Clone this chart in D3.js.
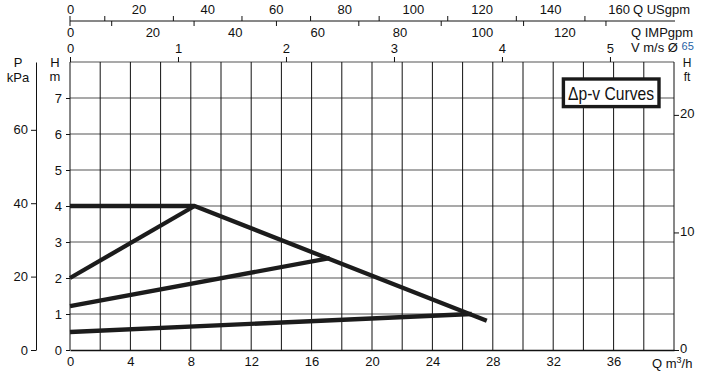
<!DOCTYPE html>
<html>
<head>
<meta charset="utf-8">
<script src="https://cdn.jsdelivr.net/npm/d3@7"></script>
<style>
  body { margin: 0; background: #fff; }
  svg { font-family: "Liberation Sans", Arial, sans-serif; }
  .axis text { font-size: 13px; fill: #111; }
  .axis line, .axis path { stroke: #111; }
</style>
</head>
<body>
<script>
// Curves, [Q m3/h, H m]
const constCurve = [[0, 4], [8.25, 4], [27.6, 0.81]]
const highCurve = [[0, 2], [8.25, 4]]
const midCurve = [[0, 1.22], [17.2, 2.55]]
const lowCurve = [[0, 0.5], [26.6, 1.0]]

// Tick labels
const qTicks = [0, 4, 8, 12, 16, 20, 24, 28, 32, 36]
const qGrid = [0, 2, 4, 6, 8, 10, 12, 14, 16, 18, 20, 22, 24, 26, 28, 30, 32, 34, 36, 38, 40]
const hTicks = [0, 1, 2, 3, 4, 5, 6, 7]
const hGrid = [1, 2, 3, 4, 5, 6, 7, 8]
const kpaTicks = [0, 20, 40, 60]
const ftTicks = [0, 10, 20]
const usTicks = [0, 20, 40, 60, 80, 100, 120, 140, 160]
const usMinor = [10, 30, 50, 70, 90, 110, 130, 150]
const impTicks = [0, 20, 40, 60, 80, 100, 120]
const impMinor = [10, 30, 50, 70, 90, 110, 130]
const vTicks = [0, 1, 2, 3, 4, 5]

const width = 705
const height = 372
const plotLeft = 70
const plotRight = 674
const plotTop = 62
const plotBottom = 350

const svg = d3.select('body')
  .append('svg')
  .attr('width', width)
  .attr('height', height)

// Scales
const xScale = d3.scaleLinear().domain([0, 40]).range([plotLeft, plotRight])
const yScale = d3.scaleLinear().domain([0, 8]).range([plotBottom, plotTop])
const kpaScale = d3.scaleLinear().domain([0, 8 * 9.81]).range([plotBottom, plotTop])
const ftScale = d3.scaleLinear().domain([0, 24.5]).range([plotBottom, plotTop])
const usScale = d3.scaleLinear().domain([0, 40 * 4.403]).range([plotLeft, plotRight])
const impScale = d3.scaleLinear().domain([0, 40 * 3.666]).range([plotLeft, plotRight])
const vScale = d3.scaleLinear().domain([0, 5.593]).range([plotLeft, plotRight])

// Horizontal grid (grey)
svg.append('g')
  .selectAll('line')
  .data(hGrid)
  .enter()
  .append('line')
  .attr('x1', plotLeft)
  .attr('x2', plotRight)
  .attr('y1', d => yScale(d))
  .attr('y2', d => yScale(d))
  .attr('stroke', '#8c8c8c')
  .attr('stroke-width', 1.3)

// Vertical grid (black)
svg.append('g')
  .selectAll('line')
  .data(qGrid)
  .enter()
  .append('line')
  .attr('x1', d => xScale(d))
  .attr('x2', d => xScale(d))
  .attr('y1', plotTop)
  .attr('y2', plotBottom)
  .attr('stroke', '#111')
  .attr('stroke-width', 1)

// Bottom axis Q m3/h
const xAxis = svg.append('g')
  .attr('class', 'axis')
  .attr('transform', `translate(0, ${plotBottom})`)
  .call(d3.axisBottom(xScale).tickValues(qTicks).tickSize(0).tickPadding(7))
xAxis.select('.domain').attr('stroke', '#8c8c8c').attr('stroke-width', 1.3)

svg.append('text')
  .attr('x', 652)
  .attr('y', 368)
  .attr('font-size', 13)
  .attr('fill', '#111')
  .html('Q m<tspan font-size="9" dy="-5">3</tspan><tspan dy="5">/h</tspan>')

// Left H m axis
const hAxis = svg.append('g')
  .attr('class', 'axis')
  .attr('transform', `translate(${plotLeft}, 0)`)
  .call(d3.axisLeft(yScale).tickValues(hTicks).tickSize(4).tickPadding(4))
hAxis.select('.domain').remove()

// P kPa axis
svg.append('g')
  .attr('class', 'axis')
  .attr('transform', 'translate(36, 0)')
  .call(d3.axisLeft(kpaScale).tickValues(kpaTicks).tickSize(5).tickPadding(3).tickSizeOuter(0))

// Right H ft axis
const ftAxis = svg.append('g')
  .attr('class', 'axis')
  .attr('transform', `translate(${plotRight}, 0)`)
  .call(d3.axisRight(ftScale).tickValues(ftTicks).tickSize(5).tickPadding(1).tickSizeOuter(0))
ftAxis.select('.domain').remove()
ftAxis.selectAll('text').attr('dy', '0.2em')

// Top: V m/s on plot border
const vAxis = svg.append('g')
  .attr('class', 'axis')
  .attr('transform', `translate(0, ${plotTop})`)
  .call(d3.axisTop(vScale).tickValues(vTicks).tickFormat(d3.format('d')).tickSize(5).tickPadding(4).tickSizeOuter(0))
vAxis.select('.domain').remove()

// Top: USgpm / IMPgpm share one line
const usAxis = svg.append('g')
  .attr('class', 'axis')
  .attr('transform', 'translate(0, 21)')
  .call(d3.axisTop(usScale).tickValues(usTicks).tickSize(0).tickPadding(7).tickSizeOuter(0))
usAxis.select('.domain').attr('d', `M${plotLeft},0H${plotRight + 1}`)

svg.append('g')
  .attr('class', 'axis')
  .attr('transform', 'translate(0, 21)')
  .call(d3.axisTop(usScale).tickValues(usMinor).tickSize(5).tickFormat(''))
  .select('.domain').remove()

const impAxis = svg.append('g')
  .attr('class', 'axis')
  .attr('transform', 'translate(0, 21)')
  .call(d3.axisBottom(impScale).tickValues(impTicks).tickSize(0).tickPadding(7))
impAxis.select('.domain').remove()

svg.append('g')
  .attr('class', 'axis')
  .attr('transform', 'translate(0, 21)')
  .call(d3.axisBottom(impScale).tickValues(impMinor).tickSize(5).tickFormat(''))
  .select('.domain').remove()

// zero tick crosses the line
svg.append('line')
  .attr('x1', xScale(0)).attr('x2', xScale(0))
  .attr('y1', 16).attr('y2', 26)
  .attr('stroke', '#111')

// Unit labels
const labels = [
  { x: 633, y: 14, t: 'Q USgpm', a: 'start', s: 13 },
  { x: 631, y: 37, t: 'Q IMPgpm', a: 'start', s: 13 },
  { x: 18, y: 67, t: 'P', a: 'middle', s: 13 },
  { x: 18, y: 82, t: 'kPa', a: 'middle', s: 13 },
  { x: 55, y: 67, t: 'H', a: 'middle', s: 13 },
  { x: 55, y: 81, t: 'm', a: 'middle', s: 13 },
  { x: 687, y: 67, t: 'H', a: 'middle', s: 12 },
  { x: 687, y: 81, t: 'ft', a: 'middle', s: 12 }
]
svg.append('g')
  .selectAll('text')
  .data(labels)
  .enter()
  .append('text')
  .attr('x', d => d.x)
  .attr('y', d => d.y)
  .attr('text-anchor', d => d.a)
  .attr('font-size', d => d.s)
  .attr('fill', '#111')
  .text(d => d.t)

svg.append('text')
  .attr('x', 631)
  .attr('y', 52)
  .attr('font-size', 13)
  .attr('fill', '#111')
  .html('V m/s Ø <tspan font-size="11" fill="#1f5fa6" dy="-2">65</tspan>')

// Curves
const line = d3.line()
  .x(d => xScale(d[0]))
  .y(d => yScale(d[1]))

svg.append('g')
  .selectAll('path')
  .data([lowCurve, midCurve, highCurve, constCurve])
  .enter()
  .append('path')
  .attr('d', line)
  .attr('fill', 'none')
  .attr('stroke', '#1c1c1c')
  .attr('stroke-width', 4.3)
  .attr('stroke-linejoin', 'round')

// Legend box
svg.append('rect')
  .attr('x', 563.4)
  .attr('y', 79)
  .attr('width', 95.6)
  .attr('height', 27.6)
  .attr('fill', '#fff')
  .attr('stroke', '#1a1a1a')
  .attr('stroke-width', 3.4)

svg.append('text')
  .attr('x', 568)
  .attr('y', 100)
  .attr('font-family', '"Liberation Sans Narrow", "Arial Narrow", sans-serif')
  .attr('font-size', 19)
  .attr('fill', '#111')
  .attr('textLength', 86)
  .attr('lengthAdjust', 'spacingAndGlyphs')
  .text('Δp-v Curves')
</script>
</body>
</html>
